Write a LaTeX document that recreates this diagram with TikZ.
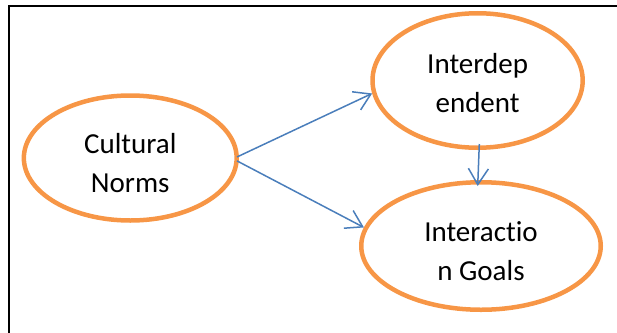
\documentclass[tikz,border=0pt]{standalone}
\usepackage{fontspec}
\setmainfont{Carlito}[Ligatures=NoCommon]
\usetikzlibrary{shapes.geometric,arrows.meta}
\definecolor{ovalorange}{HTML}{F79646}
\definecolor{linkblue}{HTML}{4A7EBB}
% strut on the first line that pushes a label down inside its oval
\newcommand{\dropby}[1]{\rule{0pt}{\dimexpr 21pt+#1\relax}}
\begin{document}
\begin{tikzpicture}[x=1pt,y=-1pt,
  oval/.style={ellipse, draw=ovalorange, line width=4.5pt, inner sep=0pt,
    align=center, font=\fontsize{29}{39}\selectfont},
  link/.style={draw=linkblue, line width=1.5pt,
    -{Straight Barb[length=16pt,width=20pt]}},
  frameline/.style={line width=2pt}]
\useasboundingbox (0,0) rectangle (617,332);
% outer frame: only its left and top sides fall inside the page
\draw[frameline] (8.7,333) -- (8.7,6) -- (618,6);
% concepts
\node[oval, minimum width=212.8pt, minimum height=125pt] (cn) at (130.25,158) {\dropby{10pt}Cultural\\Norms};
\node[oval, minimum width=210.2pt, minimum height=134.5pt] (id) at (477.6,80.5) {\dropby{4pt}Interdep\\endent};
\node[oval, minimum width=239.5pt, minimum height=127.5pt] (ic) at (481,246) {\dropby{10pt}Interactio\\n Goals};
% influences
\draw[link, shorten <=-2pt] (cn.1.6) -- (id.187);
\draw[link, shorten <=-2pt] (cn.-2.1) -- (ic.171);
\draw[link] ([xshift=1.7pt,yshift=6pt]id.south) -- ([xshift=-3.3pt,yshift=-6pt]ic.north);
\end{tikzpicture}
\end{document}
